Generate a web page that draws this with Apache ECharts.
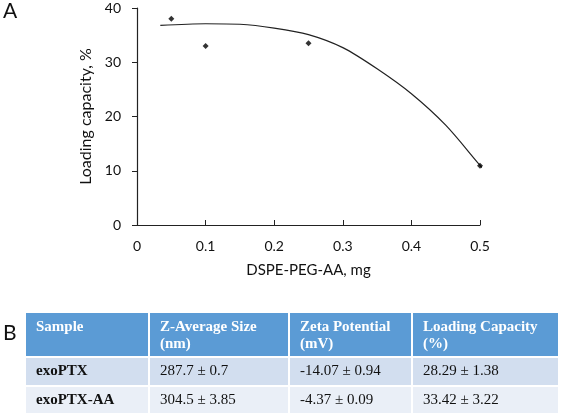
<!DOCTYPE html>
<html>
<head>
<meta charset="utf-8">
<script src="https://cdn.jsdelivr.net/npm/echarts@6/dist/echarts.min.js"></script>
<style>
  html, body { margin: 0; padding: 0; background: #fff; }
  #main { width: 564px; height: 419px; }
</style>
</head>
<body>
<div id="main"></div>
<script>
// measured points
var doseMg = [0.05, 0.1, 0.25, 0.5];
var loadingPct = [38.0, 33.0, 33.5, 10.9];
// trend line
var trendX = [0.034, 0.1, 0.15, 0.2, 0.25, 0.3, 0.35, 0.4, 0.45, 0.5, 0.506];
var trendY = [36.8, 37.1, 37.0, 36.3, 35.1, 32.7, 28.8, 24.2, 18.4, 11.0, 10.2];

// table B
var tableHeader = ['Sample', 'Z-Average Size\n(nm)', 'Zeta Potential\n(mV)', 'Loading Capacity\n(%)'];
var tableRows = [
  ['exoPTX', '287.7 ± 0.7', '-14.07 ± 0.94', '28.29 ± 1.38'],
  ['exoPTX-AA', '304.5 ± 3.85', '-4.37 ± 0.09', '33.42 ± 3.22']
];

var sansFont = 'Lato, "Open Sans", sans-serif';
var serifFont = '"Liberation Serif", "DejaVu Serif", serif';

// table layout
var colEdges = [[26, 148], [150, 288], [290, 411], [413, 558]];
var rowEdges = [[313, 356], [358, 385], [387, 413]];
var rowFills = ['#5b9bd5', '#d2deef', '#eaeff7'];

var graphics = [
  { type: 'text', left: 3, top: 1, style: { text: 'A', font: '21px ' + sansFont, fill: '#111' } },
  { type: 'text', left: 3, top: 323, style: { text: 'B', font: '21px ' + sansFont, fill: '#111' } }
];

var allRows = [tableHeader].concat(tableRows);
allRows.forEach(function (row, r) {
  var ry = rowEdges[r];
  row.forEach(function (cell, c) {
    var cx = colEdges[c];
    graphics.push({
      type: 'rect',
      shape: { x: cx[0], y: ry[0], width: cx[1] - cx[0], height: ry[1] - ry[0] },
      style: { fill: rowFills[r] }
    });
    var bold = (r === 0 || c === 0);
    graphics.push({
      type: 'text',
      x: cx[0] + 10,
      y: r === 0 ? ry[0] + 6 : (ry[0] + ry[1]) / 2,
      style: {
        text: cell,
        font: (bold ? 'bold ' : '') + '15px ' + serifFont,
        fill: r === 0 ? '#fff' : '#111',
        lineHeight: 17,
        verticalAlign: r === 0 ? 'top' : 'middle'
      }
    });
  });
});

var chart = echarts.init(document.getElementById('main'));
chart.setOption({
  animation: false,
  backgroundColor: '#fff',
  grid: { left: 137, right: 84, top: 8, bottom: 194, outerBoundsMode: 'none' },
  xAxis: {
    type: 'value',
    min: 0, max: 0.5, interval: 0.1,
    name: 'DSPE-PEG-AA, mg',
    nameLocation: 'middle',
    nameGap: 38,
    nameTextStyle: { fontFamily: sansFont, fontSize: 15, color: '#111' },
    axisLine: { show: true, lineStyle: { color: '#222', width: 1.2 } },
    axisTick: { show: true, inside: true, length: 5, lineStyle: { color: '#222' } },
    axisLabel: { fontFamily: sansFont, fontSize: 14, color: '#111', margin: 14 },
    splitLine: { show: false }
  },
  yAxis: {
    type: 'value',
    min: 0, max: 40, interval: 10,
    name: 'Loading capacity, %',
    nameLocation: 'middle',
    nameGap: 38,
    nameTextStyle: { fontFamily: sansFont, fontSize: 16, color: '#111' },
    axisLine: { show: true, lineStyle: { color: '#222', width: 1.2 } },
    axisTick: { show: true, length: 5, lineStyle: { color: '#222' } },
    axisLabel: { fontFamily: sansFont, fontSize: 14, color: '#111', margin: 16 },
    splitLine: { show: false }
  },
  series: [
    {
      type: 'line',
      data: trendX.map(function (x, i) { return [x, trendY[i]]; }),
      smooth: 0.3,
      showSymbol: false,
      lineStyle: { color: '#222', width: 1.2 },
      z: 2
    },
    {
      type: 'scatter',
      data: doseMg.map(function (x, i) { return [x, loadingPct[i]]; }),
      symbol: 'diamond',
      symbolSize: 6,
      itemStyle: { color: '#000' },
      z: 3
    }
  ],
  graphic: graphics
});
</script>
</body>
</html>
